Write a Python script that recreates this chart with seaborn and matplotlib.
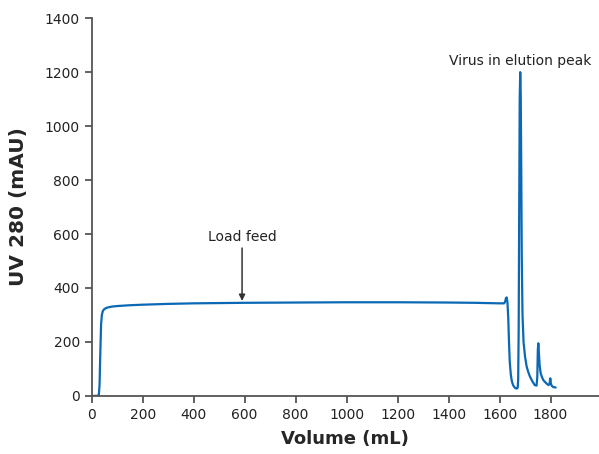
import matplotlib
matplotlib.use("Agg")
import matplotlib.pyplot as plt
import seaborn as sns
import pandas as pd

volume_ml = [0, 20, 28, 31, 34, 37, 40, 44, 50, 60, 80, 100, 150, 200, 300, 400,
             600, 800, 1000, 1200, 1400, 1500, 1600, 1618, 1622, 1625, 1628, 1631,
             1634, 1637, 1640, 1644, 1648, 1653, 1660, 1667, 1671, 1673, 1675,
             1677, 1679, 1681, 1683, 1685, 1687, 1690, 1694, 1700, 1706, 1712,
             1719, 1728, 1738, 1745, 1748, 1750, 1752, 1754, 1757, 1761, 1766,
             1772, 1778, 1785, 1792, 1796, 1799, 1801, 1804, 1810, 1815, 1820]
uv_mau = [0, 0, 2, 40, 160, 265, 300, 315, 322, 327, 331, 333, 336, 338, 341, 343,
          345, 346, 347, 347, 346, 345, 343, 343, 350, 362, 365, 345,
          290, 200, 125, 80, 55, 40, 30, 27, 30, 60, 250,
          700, 1100, 1200, 1120, 850, 520, 300, 200, 145, 110, 90,
          72, 55, 40, 38, 70, 170, 195, 165, 115, 85, 70,
          58, 52, 45, 40, 45, 65, 48, 38, 33, 32, 31]

df = pd.DataFrame({"Volume (mL)": volume_ml, "UV 280 (mAU)": uv_mau})

sns.set_style("ticks")
plt.rcParams["font.family"] = ["DejaVu Sans"]

fig = plt.figure(figsize=(5.99, 4.54), dpi=100)
ax = fig.add_axes([0.153, 0.128, 0.847, 0.832])

sns.lineplot(data=df, x="Volume (mL)", y="UV 280 (mAU)", ax=ax, color="#0a68b4",
             linewidth=1.6, sort=False)

ax.set_xlim(0, 1990)
ax.set_ylim(0, 1400)
ax.set_xticks(range(0, 1801, 200))
ax.set_yticks(range(0, 1401, 200))
ax.tick_params(axis="both", labelsize=10, color="#555555", length=5, width=1.3,
               labelcolor="#222222")
for s in ["top", "right"]:
    ax.spines[s].set_visible(False)
for s in ["left", "bottom"]:
    ax.spines[s].set_color("#555555")
    ax.spines[s].set_linewidth(1.3)

ax.set_xlabel("Volume (mL)", fontsize=13, fontweight="bold", labelpad=6)
ax.set_ylabel("UV 280 (mAU)", fontsize=14.5, fontweight="bold", labelpad=12)

ax.annotate("", xy=(590, 352), xytext=(590, 548),
            arrowprops=dict(arrowstyle="-|>", color="#333333", lw=1.1,
                            mutation_scale=9, shrinkA=0, shrinkB=0))
ax.text(590, 574, "Load feed", ha="center", va="baseline", fontsize=10,
        color="#222222")
ax.text(1681, 1226, "Virus in elution peak", ha="center", va="baseline",
        fontsize=10, color="#222222")

fig.savefig("out.png", dpi=100)
